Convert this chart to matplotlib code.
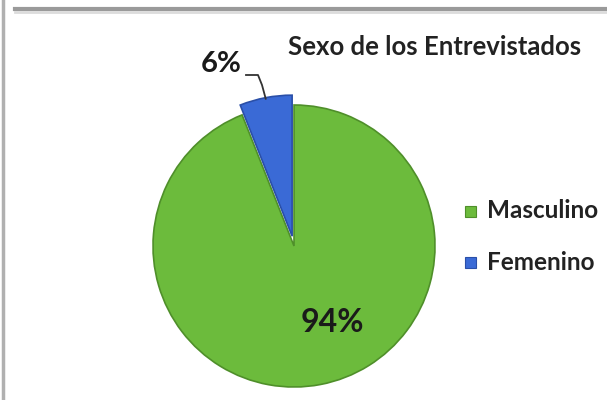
import numpy as np
import matplotlib.pyplot as plt

categorias = ["Masculino", "Femenino"]
valores = [94, 6]
colores = ["#6cbb3c", "#3a6ad6"]
bordes = ["#4f8f2a", "#2a4fa8"]
titulo = "Sexo de los Entrevistados"

W, H = 607, 400
fig = plt.figure(figsize=(W / 100, H / 100), dpi=100)
ax = fig.add_axes([0, 0, 1, 1])
ax.set_xlim(0, W)
ax.set_ylim(0, H)
ax.set_aspect("equal")
ax.axis("off")

# marco de la captura
ax.plot([3, 3], [0, H], color="#b0b0b0", lw=2.5)
ax.plot([15, W], [H - 9, H - 9], color="#9a9a9a", lw=3)
ax.plot([15, W], [H - 12, H - 12], color="#dcdcdc", lw=2)

cx, cy, r = 294, H - 246, 141
explode = [0, 10]  # en pixeles (pie usa desplazamiento absoluto)
wedges, _ = ax.pie(valores, colors=colores, startangle=90, counterclock=False,
                   explode=explode, center=(cx, cy), radius=r,
                   wedgeprops=dict(linewidth=1.2))
for w, b in zip(wedges, bordes):
    w.set_edgecolor(b)
ax.set_xlim(0, W)
ax.set_ylim(0, H)

tot = sum(valores)
# etiqueta 94%
ax.text(332, H - 322, f"{round(valores[0] / tot * 100)}%", fontsize=23,
        fontweight="bold", family="Lato", color="#1a1a1a", ha="center", va="center")

# etiqueta 6% con linea guia
ang = np.deg2rad(90 + valores[1] / tot * 360 / 2)
d = r + explode[1]
px, py = cx + d * np.cos(ang), cy + d * np.sin(ang)
ax.plot([246, 258, 262, px], [H - 75, H - 75, H - 85, py - 1], color="#333333", lw=1.3)
ax.text(221, H - 64, f"{round(valores[1] / tot * 100)}%", fontsize=21,
        fontweight="bold", family="Lato", color="#1a1a1a", ha="center", va="center")

ax.text(435, H - 47, titulo, fontsize=18.5, fontweight="bold", family="Lato",
        color="#222222", ha="center", va="center")

# leyenda
for i, (cat, col, b) in enumerate(zip(categorias, colores, bordes)):
    y = H - 211 - i * 51
    ax.add_patch(plt.Rectangle((465, y - 5.5), 11, 11, facecolor=col, edgecolor=b, lw=0.8))
    ax.text(487, y, cat, fontsize=17.5, fontweight="bold", family="Lato",
            color="#222222", va="center", ha="left")

fig.savefig("out.png", dpi=100)
